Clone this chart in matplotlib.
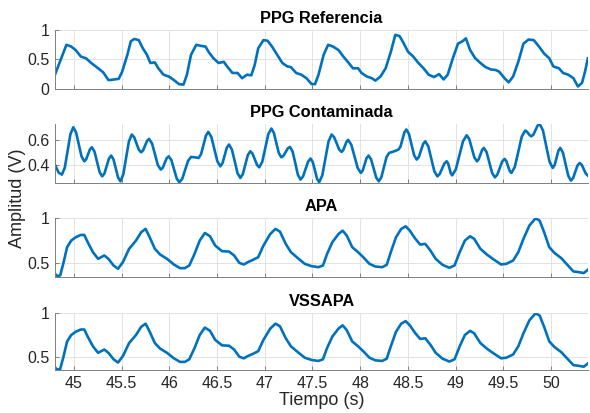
import matplotlib
matplotlib.use("Agg")
import matplotlib.pyplot as plt

# ---------------- data ----------------
t_ref = [44.801, 44.921, 44.971, 45.018, 45.072, 45.126, 45.181, 45.253, 45.307, 45.361,
         45.379, 45.469, 45.505, 45.560, 45.596, 45.632, 45.679, 45.722, 45.765, 45.801,
         45.848, 45.884, 45.939, 45.993, 46.047, 46.101, 46.148, 46.184, 46.227, 46.282,
         46.336, 46.379, 46.415, 46.462, 46.516, 46.570, 46.606, 46.661, 46.715, 46.762,
         46.812, 46.859, 46.895, 46.931, 46.986, 47.029, 47.076, 47.130, 47.184, 47.238,
         47.274, 47.329, 47.383, 47.437, 47.491, 47.527, 47.563, 47.617, 47.664, 47.715,
         47.773, 47.823, 47.870, 47.924, 47.978, 48.014, 48.069, 48.123, 48.159, 48.213,
         48.267, 48.321, 48.368, 48.412, 48.448, 48.502, 48.556, 48.610, 48.664, 48.718,
         48.773, 48.827, 48.874, 48.917, 48.971, 49.025, 49.072, 49.108, 49.152, 49.206,
         49.260, 49.314, 49.368, 49.422, 49.458, 49.513, 49.556, 49.603, 49.657, 49.711,
         49.765, 49.819, 49.874, 49.928, 49.982, 50.025, 50.083, 50.126, 50.181, 50.235,
         50.282, 50.325, 50.356, 50.386]
ppg_ref = [0.24, 0.75, 0.72, 0.66, 0.55, 0.52, 0.44, 0.35, 0.28, 0.15,
           0.15, 0.17, 0.29, 0.58, 0.81, 0.85, 0.83, 0.69, 0.58, 0.44,
           0.45, 0.35, 0.24, 0.21, 0.15, 0.08, 0.07, 0.24, 0.58, 0.75,
           0.73, 0.72, 0.62, 0.52, 0.44, 0.46, 0.38, 0.27, 0.27, 0.18,
           0.24, 0.23, 0.41, 0.69, 0.83, 0.82, 0.72, 0.58, 0.44, 0.38,
           0.37, 0.27, 0.24, 0.18, 0.08, 0.08, 0.24, 0.58, 0.75, 0.72,
           0.66, 0.55, 0.46, 0.35, 0.35, 0.27, 0.21, 0.18, 0.14, 0.21,
           0.35, 0.63, 0.92, 0.90, 0.80, 0.63, 0.55, 0.44, 0.35, 0.24,
           0.20, 0.25, 0.16, 0.24, 0.52, 0.77, 0.81, 0.86, 0.66, 0.52,
           0.44, 0.37, 0.33, 0.32, 0.29, 0.18, 0.11, 0.21, 0.46, 0.77,
           0.84, 0.83, 0.72, 0.60, 0.52, 0.38, 0.35, 0.27, 0.24, 0.18,
           0.04, 0.10, 0.29, 0.52]

t_cont = [44.800, 44.840, 44.874, 44.904, 44.934, 44.963, 44.993, 45.022, 45.051, 45.079,
          45.108, 45.128, 45.148, 45.168, 45.188, 45.215, 45.242, 45.269, 45.296, 45.320,
          45.343, 45.367, 45.390, 45.414, 45.439, 45.463, 45.487, 45.517, 45.547, 45.576,
          45.606, 45.631, 45.655, 45.680, 45.704, 45.725, 45.746, 45.766, 45.787, 45.818,
          45.849, 45.879, 45.910, 45.931, 45.952, 45.972, 45.993, 46.021, 46.049, 46.077,
          46.105, 46.136, 46.166, 46.197, 46.227, 46.264, 46.307, 46.332, 46.358, 46.383,
          46.408, 46.440, 46.471, 46.503, 46.534, 46.557, 46.580, 46.602, 46.625, 46.655,
          46.685, 46.714, 46.744, 46.770, 46.796, 46.822, 46.848, 46.872, 46.895, 46.919,
          46.942, 46.974, 47.006, 47.037, 47.069, 47.095, 47.121, 47.147, 47.173, 47.196,
          47.219, 47.241, 47.264, 47.292, 47.320, 47.347, 47.375, 47.401, 47.428, 47.454,
          47.480, 47.503, 47.525, 47.548, 47.570, 47.603, 47.635, 47.668, 47.700, 47.726,
          47.753, 47.779, 47.805, 47.822, 47.840, 47.857, 47.874, 47.907, 47.941, 47.974,
          48.007, 48.027, 48.047, 48.067, 48.087, 48.114, 48.141, 48.168, 48.195, 48.222,
          48.249, 48.276, 48.303, 48.357, 48.401, 48.422, 48.443, 48.463, 48.484, 48.511,
          48.538, 48.565, 48.592, 48.615, 48.637, 48.660, 48.682, 48.714, 48.746, 48.777,
          48.809, 48.833, 48.858, 48.882, 48.906, 48.921, 48.935, 48.950, 48.964, 49.002,
          49.040, 49.078, 49.116, 49.143, 49.170, 49.197, 49.224, 49.242, 49.260, 49.278,
          49.296, 49.325, 49.354, 49.383, 49.412, 49.437, 49.463, 49.488, 49.513, 49.531,
          49.549, 49.567, 49.585, 49.621, 49.657, 49.693, 49.729, 49.745, 49.762, 49.778,
          49.794, 49.816, 49.838, 49.859, 49.881, 49.915, 49.950, 49.984, 50.018, 50.038,
          50.058, 50.077, 50.097, 50.125, 50.153, 50.181, 50.209, 50.232, 50.255, 50.277,
          50.300, 50.322, 50.343, 50.365, 50.386]
ppg_cont = [0.403, 0.338, 0.323, 0.378, 0.512, 0.646, 0.701, 0.661, 0.565, 0.469,
            0.429, 0.445, 0.485, 0.525, 0.541, 0.507, 0.425, 0.343, 0.309, 0.333,
            0.392, 0.451, 0.475, 0.445, 0.372, 0.299, 0.269, 0.324, 0.456, 0.588,
            0.643, 0.622, 0.572, 0.522, 0.501, 0.517, 0.555, 0.592, 0.608, 0.572,
            0.486, 0.399, 0.363, 0.378, 0.416, 0.454, 0.469, 0.439, 0.365, 0.291,
            0.261, 0.291, 0.363, 0.434, 0.464, 0.461, 0.456, 0.486, 0.560, 0.634,
            0.664, 0.624, 0.527, 0.429, 0.389, 0.414, 0.476, 0.538, 0.563, 0.524,
            0.430, 0.335, 0.296, 0.327, 0.403, 0.478, 0.509, 0.490, 0.445, 0.400,
            0.381, 0.426, 0.536, 0.646, 0.691, 0.657, 0.576, 0.495, 0.461, 0.473,
            0.503, 0.532, 0.544, 0.506, 0.414, 0.321, 0.283, 0.308, 0.367, 0.426,
            0.451, 0.423, 0.356, 0.289, 0.261, 0.317, 0.452, 0.587, 0.643, 0.623,
            0.574, 0.524, 0.504, 0.518, 0.552, 0.586, 0.600, 0.561, 0.468, 0.375,
            0.336, 0.356, 0.406, 0.455, 0.475, 0.445, 0.372, 0.299, 0.269, 0.302,
            0.383, 0.463, 0.496, 0.509, 0.523, 0.546, 0.603, 0.660, 0.683, 0.648,
            0.563, 0.478, 0.443, 0.464, 0.516, 0.568, 0.589, 0.548, 0.449, 0.350,
            0.309, 0.327, 0.369, 0.411, 0.429, 0.413, 0.373, 0.333, 0.317, 0.364,
            0.477, 0.590, 0.637, 0.607, 0.533, 0.459, 0.429, 0.445, 0.483, 0.520,
            0.536, 0.502, 0.419, 0.335, 0.301, 0.322, 0.375, 0.427, 0.448, 0.432,
            0.392, 0.352, 0.336, 0.385, 0.506, 0.626, 0.675, 0.668, 0.652, 0.636,
            0.629, 0.643, 0.679, 0.714, 0.728, 0.677, 0.552, 0.427, 0.376, 0.399,
            0.456, 0.513, 0.536, 0.498, 0.406, 0.313, 0.275, 0.296, 0.346, 0.395,
            0.416, 0.401, 0.366, 0.330, 0.315]

t_apa = [44.800, 44.827, 44.856, 44.892, 44.928, 44.971, 45.018, 45.072, 45.108, 45.144,
         45.199, 45.253, 45.318, 45.361, 45.415, 45.462, 45.513, 45.578, 45.650, 45.704,
         45.751, 45.794, 45.848, 45.903, 45.975, 46.047, 46.112, 46.162, 46.209, 46.264,
         46.318, 46.372, 46.426, 46.480, 46.552, 46.625, 46.679, 46.733, 46.780, 46.823,
         46.877, 46.931, 46.986, 47.058, 47.112, 47.159, 47.220, 47.274, 47.347, 47.419,
         47.491, 47.563, 47.610, 47.653, 47.708, 47.773, 47.816, 47.859, 47.917, 47.978,
         48.032, 48.097, 48.159, 48.231, 48.278, 48.321, 48.375, 48.430, 48.477, 48.520,
         48.574, 48.628, 48.682, 48.736, 48.791, 48.863, 48.935, 48.989, 49.043, 49.097,
         49.152, 49.195, 49.260, 49.332, 49.404, 49.477, 49.531, 49.603, 49.657, 49.711,
         49.773, 49.838, 49.881, 49.928, 49.982, 50.036, 50.108, 50.162, 50.235, 50.289,
         50.343, 50.386]
apa = [0.382, 0.356, 0.364, 0.512, 0.678, 0.752, 0.789, 0.815, 0.815, 0.734,
       0.623, 0.549, 0.586, 0.549, 0.475, 0.438, 0.512, 0.660, 0.752, 0.845,
       0.882, 0.789, 0.660, 0.597, 0.549, 0.486, 0.445, 0.445, 0.475, 0.604,
       0.752, 0.837, 0.800, 0.697, 0.634, 0.630, 0.586, 0.504, 0.486, 0.512,
       0.538, 0.567, 0.697, 0.826, 0.882, 0.852, 0.715, 0.623, 0.556, 0.493,
       0.467, 0.456, 0.475, 0.604, 0.734, 0.826, 0.863, 0.808, 0.678, 0.623,
       0.567, 0.493, 0.463, 0.456, 0.482, 0.623, 0.789, 0.882, 0.911, 0.863,
       0.778, 0.708, 0.715, 0.641, 0.549, 0.482, 0.449, 0.475, 0.623, 0.752,
       0.800, 0.771, 0.660, 0.593, 0.538, 0.486, 0.493, 0.530, 0.623, 0.771,
       0.919, 1.000, 0.974, 0.845, 0.678, 0.615, 0.556, 0.493, 0.408, 0.401,
       0.390, 0.427]

t_vss = list(t_apa)
vssapa = [0.382, 0.356, 0.364, 0.512, 0.678, 0.752, 0.789, 0.815, 0.815, 0.734,
          0.623, 0.549, 0.586, 0.549, 0.475, 0.438, 0.512, 0.660, 0.752, 0.845,
          0.882, 0.789, 0.660, 0.597, 0.549, 0.486, 0.445, 0.445, 0.475, 0.604,
          0.752, 0.837, 0.800, 0.697, 0.634, 0.630, 0.586, 0.504, 0.486, 0.512,
          0.538, 0.567, 0.697, 0.826, 0.882, 0.852, 0.715, 0.623, 0.556, 0.493,
          0.467, 0.456, 0.475, 0.604, 0.734, 0.826, 0.863, 0.808, 0.678, 0.623,
          0.567, 0.493, 0.463, 0.456, 0.482, 0.623, 0.789, 0.882, 0.911, 0.863,
          0.778, 0.708, 0.715, 0.641, 0.549, 0.482, 0.449, 0.475, 0.623, 0.752,
          0.800, 0.771, 0.660, 0.593, 0.538, 0.486, 0.493, 0.530, 0.623, 0.771,
          0.919, 1.000, 0.974, 0.845, 0.678, 0.615, 0.556, 0.493, 0.408, 0.401,
          0.390, 0.427]

titles = ["PPG Referencia", "PPG Contaminada", "APA", "VSSAPA"]
xticks = [45, 45.5, 46, 46.5, 47, 47.5, 48, 48.5, 49, 49.5, 50]
xtick_labels = ["45", "45.5", "46", "46.5", "47", "47.5", "48", "48.5", "49", "49.5", "50"]
yticks = [[0, 0.5, 1], [0.4, 0.6], [0.5, 1], [0.5, 1]]
ytick_labels = [["0", "0.5", "1"], ["0.4", "0.6"], ["0.5", "1"], ["0.5", "1"]]
ylims = [(0, 1), (0.256, 0.728), (0.345, 1.003), (0.352, 1.003)]
xlim = (44.80, 50.39)

# ---------------- drawing ----------------
plt.rcParams['font.family'] = ['Liberation Sans', 'DejaVu Sans']
fig = plt.figure(figsize=(5.9, 4.13), dpi=100)

boxes = [(0.785, 0.927), (0.557, 0.700), (0.329, 0.472), (0.104, 0.242)]
series = [(t_ref, ppg_ref), (t_cont, ppg_cont), (t_apa, apa), (t_vss, vssapa)]
line_color = '#0072BD'
text_color = '#262626'
axis_color = '#7f7f7f'

for i, ((b, tp), (tx, ty)) in enumerate(zip(boxes, series)):
    ax = fig.add_axes([0.093, b, 0.904, tp - b])
    ax.plot(tx, ty, color=line_color, lw=1.9, solid_joinstyle='round')
    ax.set_xlim(*xlim)
    ax.set_ylim(*ylims[i])
    ax.set_xticks(xticks)
    ax.set_yticks(yticks[i])
    ax.set_yticklabels(ytick_labels[i])
    if i == 3:
        ax.set_xticklabels(xtick_labels)
    else:
        ax.set_xticklabels([])
    ax.grid(True, color='#e3e3e3', lw=0.7)
    ax.set_axisbelow(True)
    for s in ['top', 'right']:
        ax.spines[s].set_visible(False)
    for s in ['left', 'bottom']:
        ax.spines[s].set_color(axis_color)
        ax.spines[s].set_linewidth(0.7)
    ax.tick_params(direction='in', length=3, width=0.7, color=axis_color,
                   labelsize=11.5, labelcolor=text_color, pad=4)
    ax.set_title(titles[i], fontsize=11.8, fontweight='bold', color='black', pad=5)

fig.text(0.030, 0.52, "Amplitud (V)", rotation=90, ha='center', va='center',
         fontsize=13, color=text_color)
fig.text(0.545, 0.03, "Tiempo (s)", ha='center', va='center', fontsize=13, color=text_color)

fig.savefig("out.png", dpi=100)
